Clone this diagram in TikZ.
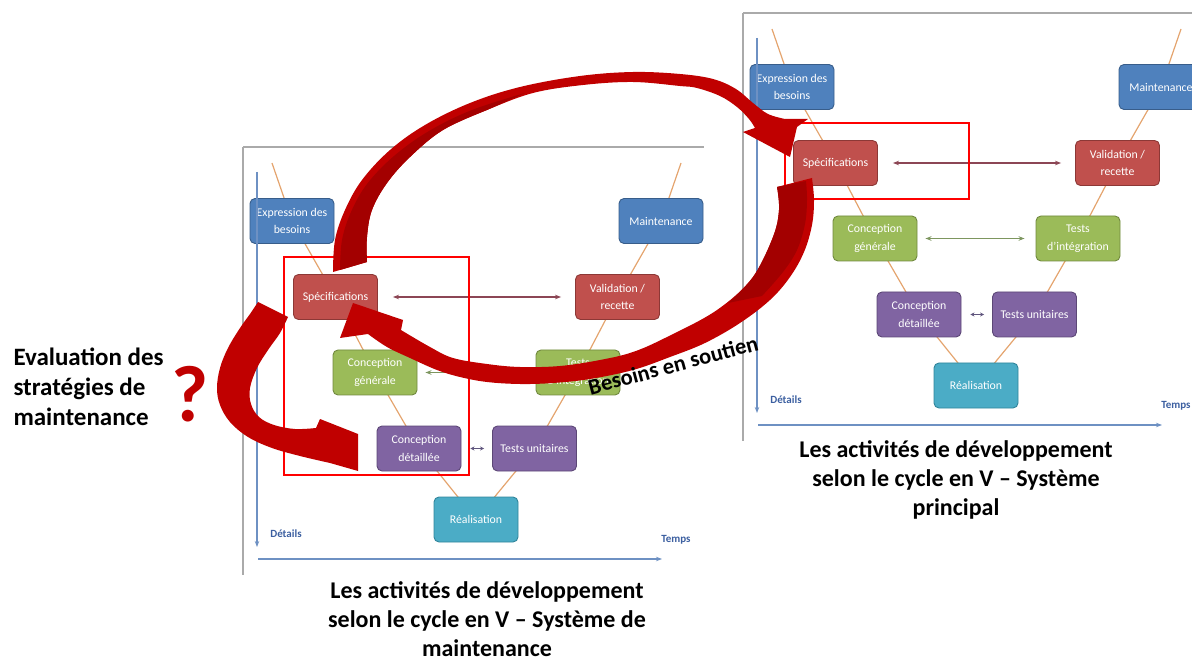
\documentclass[tikz,border=0pt]{standalone}
\usepackage{fontspec}
\setmainfont{Carlito}
\usetikzlibrary{arrows.meta}
\definecolor{bxblue}{RGB}{79,129,189}
\definecolor{bxblueD}{RGB}{56,93,138}
\definecolor{bxred}{RGB}{192,80,77}
\definecolor{bxredD}{RGB}{140,56,54}
\definecolor{bxgreen}{RGB}{155,187,89}
\definecolor{bxgreenD}{RGB}{113,137,63}
\definecolor{bxpurple}{RGB}{128,100,162}
\definecolor{bxpurpleD}{RGB}{92,71,118}
\definecolor{bxteal}{RGB}{75,172,198}
\definecolor{bxtealD}{RGB}{49,133,155}
\definecolor{vline}{RGB}{228,164,110}
\definecolor{axisblue}{RGB}{110,145,195}
\definecolor{axislbl}{RGB}{60,95,160}
\definecolor{bigred}{RGB}{192,0,0}
\definecolor{darkred}{RGB}{163,0,0}
\definecolor{panelgray}{RGB}{170,170,170}
\definecolor{redarr}{RGB}{140,70,85}
\definecolor{greenarr}{RGB}{125,150,95}
\definecolor{purparr}{RGB}{95,85,125}
\pgfdeclarelayer{bg}
\pgfsetlayers{bg,main}
\tikzset{
  box/.style={rounded corners=5pt, minimum width=84pt, minimum height=45pt, inner sep=1pt,
    align=center, text=white, font=\fontsize{11.8}{17.5}\selectfont, line width=0.9pt},
  bblue/.style={box, fill=bxblue, draw=bxblueD},
  bred/.style={box, fill=bxred, draw=bxredD},
  bgreen/.style={box, fill=bxgreen, draw=bxgreenD},
  bpurple/.style={box, fill=bxpurple, draw=bxpurpleD},
  bteal/.style={box, fill=bxteal, draw=bxtealD},
  vl/.style={draw=vline, line width=1.2pt},
  panelline/.style={draw=panelgray, line width=1.5pt},
  axisline/.style={draw=axisblue, line width=1.3pt, -{Stealth[length=6pt,width=4.5pt]}},
  axlbl/.style={text=axislbl, font=\bfseries\fontsize{11}{12}\selectfont},
  link/.style={line width=1.3pt, {Stealth[length=6pt,width=4.5pt]}-{Stealth[length=6pt,width=4.5pt]}},
  redframe/.style={draw=red, line width=1.5pt},
  caption/.style={align=center, font=\bfseries\fontsize{24}{29}\selectfont},
}
\newcommand\vpanel{%
  \draw[panelline] (243,147) -- (704,147);
  \draw[panelline] (243,147) -- (243,575);
  \coordinate (tl) at (272,163);
  \coordinate (tr) at (681,163);
  \coordinate (vtop) at (257,172);
  \coordinate (vbot) at (257,547);
  \coordinate (hl) at (258,559);
  \coordinate (hr) at (662,559);
  \node[bblue] (expr) at (292,221) {Expression des\\besoins};
  \node[bblue] (maint) at (661,221) {Maintenance};
  \node[bred] (spec) at (335.5,297) {Spécifications};
  \node[bred] (vr) at (617.5,297) {Validation /\\recette};
  \node[bgreen] (cg) at (375,372.5) {Conception\\générale};
  \node[bgreen] (ti) at (578,372.5) {Tests\\d’intégration};
  \node[bpurple] (cd) at (419,448.5) {Conception\\détaillée};
  \node[bpurple] (tu) at (534.5,448.5) {Tests unitaires};
  \node[bteal] (real) at (476,519.5) {Réalisation};
  \begin{pgfonlayer}{bg}
    \draw[vl] (tl) -- (expr.center) -- (spec.center) -- (cg.center) -- (cd.center) -- (real.center)
      -- (tu.center) -- (ti.center) -- (vr.center) -- (maint.center) -- (tr);
  \end{pgfonlayer}
  \draw[link, draw=redarr, shorten <=15pt, shorten >=14pt] (spec.east) -- (vr.west);
  \draw[link, draw=greenarr, shorten <=8pt, shorten >=11pt] (cg.east) -- (ti.west);
  \draw[line width=1.2pt, draw=purparr, {Stealth[length=4pt,width=4pt]}-{Stealth[length=4pt,width=4pt]}, shorten <=9pt, shorten >=8pt] (cd.east) -- (tu.west);
  \draw[axisline] (vtop) -- (vbot);
  \draw[axisline] (hl) -- (hr);
  \node[axlbl] (det) at (286,534) {Détails};
  \node[axlbl] (temps) at (676,540) {Temps};
}
\begin{document}
\begin{tikzpicture}[x=1pt,y=-1pt]
\useasboundingbox (0,0) rectangle (1192,660);
\clip (0,0) rectangle (1192,660);
\begin{scope}[name prefix=L-]
  \vpanel
\end{scope}
\begin{scope}[shift={(500,-134)}, name prefix=R-]
  \vpanel
\end{scope}
% red frames
\draw[redframe] (284,257) rectangle (469,475);
\draw[redframe] (785,123) rectangle (969,199);
% big arrow 1 (upper ellipse arc)
\fill[bigred] plot[smooth,tension=0.6] coordinates {(333,272) (335,240) (345,210) (362,180) (390,150) (425,125) (470,103) (520,87) (580,76) (633,72) (680,74) (713,79) (736,89) (753,103) (768,114) (785,119)}
  -- (808,119) -- (797,127) -- (790,157) -- (743,132) --
  plot[smooth,tension=0.6] coordinates {(755,128) (749,119) (737,107) (720,96) (697,88) (680,86) (633,82) (583,85) (533,93) (487,110) (443,130) (410,157) (387,183) (372,210) (367,237) (367,262)} -- cycle;
\fill[darkred] plot[smooth,tension=0.6] coordinates {(340,270) (342,240) (351,212) (367,184) (394,156) (429,131) (472,110) (525,93)}
  -- plot[smooth,tension=0.6] coordinates {(487,110) (443,130) (410,157) (387,183) (372,210) (367,237) (367,262)} -- cycle;
% big arrow 2 (lower arc, Besoins en soutien)
\fill[bigred] plot[smooth,tension=0.6] coordinates {(812,178) (814,200) (812,225) (804,252) (790,277) (770,300) (740,323) (705,343) (670,357) (633,370) (590,379) (553,383) (520,384) (487,382) (460,377) (437,370) (410,358) (387,347) (368,334)}
  -- (340,338) -- (353,303) -- (403,320) --
  plot[smooth,tension=0.6] coordinates {(401,330) (430,347) (453,358) (487,364) (520,367) (560,366) (600,360) (633,352) (667,337) (717,310) (753,277) (773,237) (779,210) (777,187)} -- cycle;
\fill[darkred] plot[smooth,tension=0.6] coordinates {(777,187) (779,210) (773,237) (753,277) (728,303)}
  -- plot[smooth,tension=0.6] coordinates {(762,296) (783,272) (797,250) (805,224) (807,200) (806,181)} -- cycle;
% big arrow 3 (left loop)
\fill[bigred] (258,302) -- (288,317) --
  plot[smooth,tension=0.6] coordinates {(288,317) (280,333) (268,350) (257,368) (250,388) (251,404) (259,417) (274,425) (295,429) (316,428)}
  -- (320,419) -- (358,434) -- (358,471) --
  plot[smooth,tension=0.6] coordinates {(330,463) (300,456) (272,448) (248,437) (230,422) (220,405) (217,388) (220,368) (228,348) (240,328) (250,314) (258,302)} -- cycle;
% texts
\node[rotate=15, font=\bfseries\fontsize{22.5}{26}\selectfont] (bes) at (673,365) {Besoins en soutien};
\node[text=bigred, font=\bfseries\fontsize{80}{80}\selectfont] (q) at (190,394) {?};
\node[anchor=west, align=left, font=\bfseries\fontsize{25}{30}\selectfont] (eval) at (10,387) {Evaluation des\\stratégies de\\maintenance};
\node[caption] (capL) at (487,619) {Les activités de développement\\selon le cycle en V – Système de\\maintenance};
\node[caption] (capR) at (956,480) {Les activités de développement\\selon le cycle en V – Système\\principal};
\end{tikzpicture}
\end{document}
